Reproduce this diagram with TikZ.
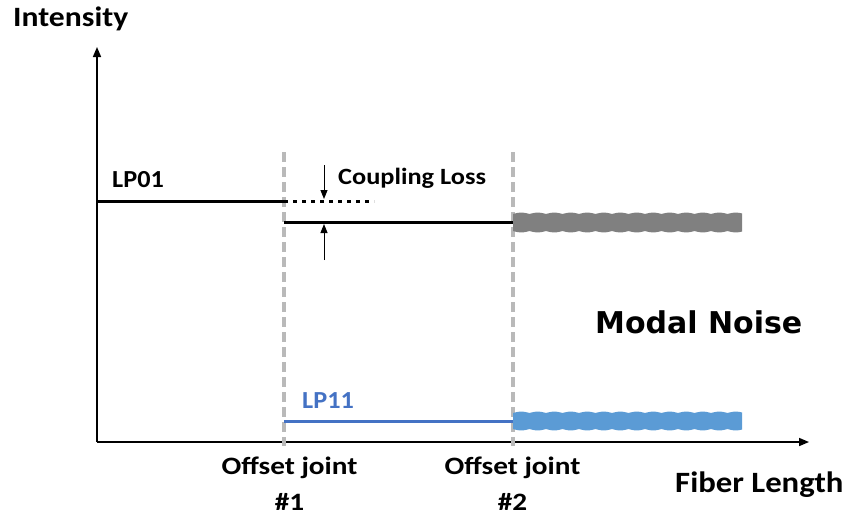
\documentclass[tikz,border=0pt]{standalone}
\usepackage{fontspec}
\setmainfont{Carlito}
\newfontfamily\widesans{DejaVu Sans}
\usetikzlibrary{arrows.meta}
\definecolor{lpblue}{RGB}{68,114,196}
\definecolor{bandblue}{RGB}{91,155,213}
\definecolor{bandgray}{RGB}{128,128,128}
\definecolor{jointgray}{RGB}{185,185,185}
\begin{document}
\begin{tikzpicture}[x=1pt,y=-1pt,
  lbl/.style={inner sep=0pt},
  axis/.style={line width=1.6pt, -{Triangle[length=10pt,width=8pt]}},
  joint/.style={jointgray, line width=3.2pt, dash pattern=on 10pt off 5pt},
  mode/.style={line width=3pt},
  gap/.style={line width=1pt, -{Triangle[length=9pt,width=7pt]}}]
\useasboundingbox (0,0) rectangle (850,520);

% axes
\coordinate (o) at (97,442);
\coordinate (ytip) at (97,47);
\coordinate (xtip) at (809,442);
\draw[axis] (o) -- (ytip);
\draw[axis] (o) -- (xtip);

% offset joints
\coordinate (j1t) at (284,152);
\coordinate (j1b) at (284,446);
\coordinate (j2t) at (513,152);
\coordinate (j2b) at (513,446);
\draw[joint] (j1t) -- (j1b);
\draw[joint] (j2t) -- (j2b);

% LP01 mode
\coordinate (a0) at (97,201);
\coordinate (a1) at (284,201);
\coordinate (a2) at (374,201);
\coordinate (b1) at (284,222);
\coordinate (b2) at (513,222);
\draw[mode] (a0) -- (a1);
\draw[line width=3pt, dash pattern=on 4pt off 5pt] (a1) -- (a2);
\draw[mode] (b1) -- (b2);

% coupling loss arrows
\coordinate (g1) at (324,165);
\coordinate (g2) at (324,199);
\coordinate (g3) at (324,260);
\coordinate (g4) at (324,224);
\draw[gap] (g1) -- (g2);
\draw[gap] (g3) -- (g4);

% LP11 mode
\coordinate (c1) at (284,421);
\coordinate (c2) at (513,421);
\draw[lpblue, mode] (c1) -- (c2);

% modal noise bands (scalloped edges)
\fill[bandgray] plot[domain=513:742,samples=300] (\x,{214-1.4*abs(sin((\x-513)/16.5*180))})
  -- plot[domain=742:513,samples=300] (\x,{231+1.4*abs(sin((\x-513)/16.5*180))}) -- cycle;
\fill[bandblue] plot[domain=513:742,samples=300] (\x,{413-1.4*abs(sin((\x-513)/16.5*180))})
  -- plot[domain=742:513,samples=300] (\x,{429+1.4*abs(sin((\x-513)/16.5*180))}) -- cycle;

% labels
\node[lbl, font=\fontsize{28}{32}\bfseries, xscale=1.13, anchor=base west] (ylab) at (13,26) {Intensity};
\node[lbl, font=\fontsize{29.5}{34}\bfseries, xscale=1.11, anchor=base west] (xlab) at (675,492) {Fiber Length};
\node[lbl, font=\fontsize{24.5}{28}\bfseries, xscale=1.07, anchor=base west] (lp01) at (112,187) {LP01};
\node[lbl, font=\fontsize{24.5}{28}\bfseries, xscale=1.07, anchor=base west, text=lpblue] (lp11) at (302,408) {LP11};
\node[lbl, font=\fontsize{23.3}{27}\bfseries, xscale=1.13, anchor=base west] (cl) at (338,184) {Coupling Loss};
\node[lbl, font=\widesans\fontsize{30}{36}\bfseries, anchor=base west] (mn) at (595,333) {Modal Noise};
\node[lbl, font=\fontsize{25}{36}\bfseries, xscale=1.17, align=center, anchor=base] (oj1) at (289.5,510) {Offset joint\\\#1};
\node[lbl, font=\fontsize{25}{36}\bfseries, xscale=1.17, align=center, anchor=base] (oj2) at (512.5,510) {Offset joint\\\#2};
\end{tikzpicture}
\end{document}
